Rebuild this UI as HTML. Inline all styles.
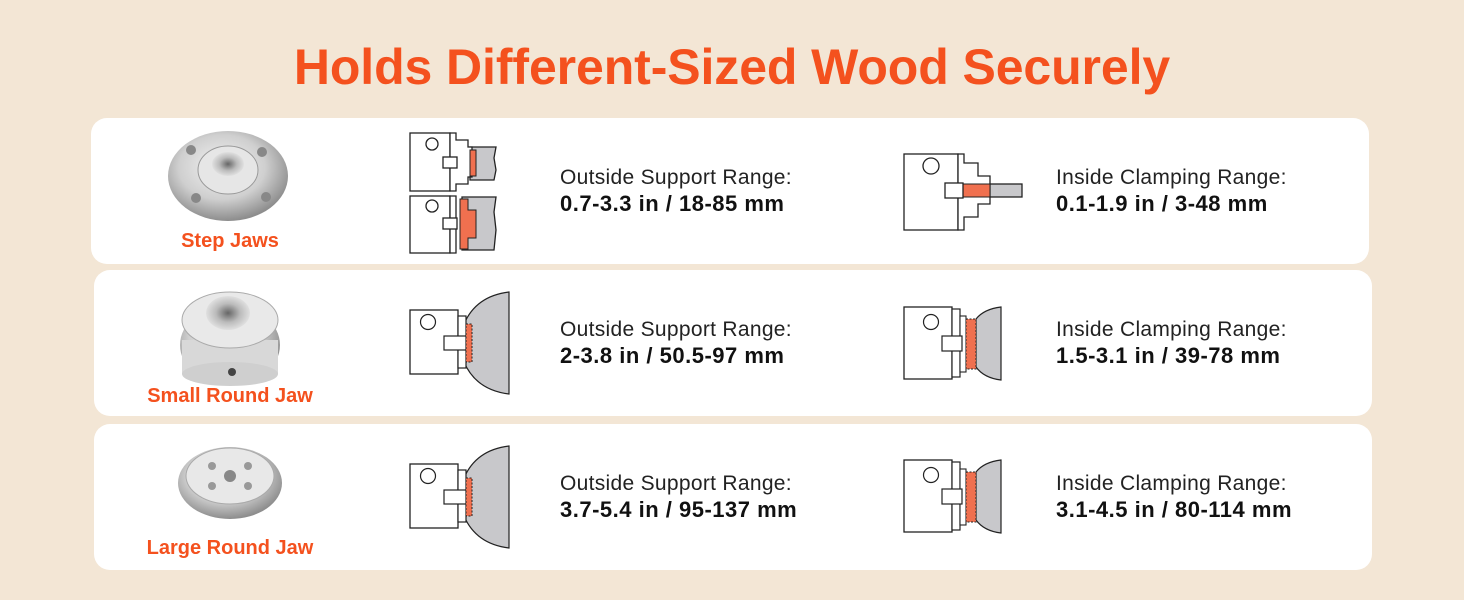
<!DOCTYPE html>
<html><head><meta charset="utf-8"><style>
html,body{margin:0;padding:0}
body{width:1464px;height:600px;background:#f3e6d5;position:relative;overflow:hidden;font-family:"Liberation Sans",sans-serif}
h1{position:absolute;left:0;width:1464px;top:38px;margin:0;text-align:center;font-size:50px;font-weight:bold;color:#f4511e;letter-spacing:-0.1px}
.card{position:absolute;background:#fff;border-radius:16px}
.t{position:absolute;font-size:21px;color:#222;line-height:26px;letter-spacing:0.3px}
.t b{color:#111;letter-spacing:0.5px;font-size:22px}
.lab{position:absolute;width:200px;text-align:center;font-size:20px;font-weight:bold;color:#f4511e;letter-spacing:0px}
svg{position:absolute;left:0;top:0}
</style></head><body>
<h1>Holds Different-Sized Wood Securely</h1>
<div class="card" style="left:91px;top:118px;width:1278px;height:146px"></div>
<div class="card" style="left:94px;top:270px;width:1278px;height:146px"></div>
<div class="card" style="left:94px;top:424px;width:1278px;height:146px"></div>

<div class="lab" style="left:130px;top:230px">Step Jaws</div>
<div class="lab" style="left:130px;top:385px">Small Round Jaw</div>
<div class="lab" style="left:130px;top:537px">Large Round Jaw</div>

<div class="t" style="left:560px;top:165px">Outside Support Range:<br><b>0.7-3.3 in / 18-85 mm</b></div>
<div class="t" style="left:1056px;top:165px">Inside Clamping Range:<br><b>0.1-1.9 in / 3-48 mm</b></div>
<div class="t" style="left:560px;top:317px">Outside Support Range:<br><b>2-3.8 in / 50.5-97 mm</b></div>
<div class="t" style="left:1056px;top:317px">Inside Clamping Range:<br><b>1.5-3.1 in / 39-78 mm</b></div>
<div class="t" style="left:560px;top:471px">Outside Support Range:<br><b>3.7-5.4 in / 95-137 mm</b></div>
<div class="t" style="left:1056px;top:471px">Inside Clamping Range:<br><b>3.1-4.5 in / 80-114 mm</b></div>

<svg width="1464" height="600" viewBox="0 0 1464 600">
<defs>
<radialGradient id="m" cx="45%" cy="40%" r="60%"><stop offset="0" stop-color="#f4f4f4"/><stop offset="0.6" stop-color="#cfcfcf"/><stop offset="1" stop-color="#8d8d8d"/></radialGradient>
<radialGradient id="m2" cx="50%" cy="50%" r="55%"><stop offset="0" stop-color="#666"/><stop offset="0.5" stop-color="#bbb"/><stop offset="1" stop-color="#e8e8e8"/></radialGradient>
<g id="out">
<path d="M54,32 Q66,4 99,0 L99,102 Q66,98 54,70 Z" fill="#c8c8cb" stroke="#222" stroke-width="1.2"/>
<rect x="0" y="18" width="48" height="64" fill="#fff" stroke="#222" stroke-width="1.3"/>
<circle cx="18" cy="30" r="7.5" fill="#fff" stroke="#222" stroke-width="1.2"/>
<rect x="48" y="24" width="8" height="52" fill="#fff" stroke="#222" stroke-width="1.2"/>
<rect x="34" y="44" width="22" height="14" fill="#fff" stroke="#222" stroke-width="1.2"/>
<rect x="56" y="32" width="6" height="38" fill="#f0704f" stroke="#222" stroke-width="1" stroke-dasharray="2 1.5"/>
</g>
<g id="in">
<path d="M72,12 Q80,2 97,0 L97,73 Q80,71 72,60 Z" fill="#c8c8cb" stroke="#222" stroke-width="1.2"/>
<rect x="0" y="0" width="48" height="72" fill="#fff" stroke="#222" stroke-width="1.3"/>
<circle cx="27" cy="15" r="7.5" fill="#fff" stroke="#222" stroke-width="1.2"/>
<rect x="48" y="2" width="8" height="68" fill="#fff" stroke="#222" stroke-width="1.2"/>
<rect x="56" y="9" width="6" height="56" fill="#fff" stroke="#222" stroke-width="1.1"/>
<rect x="38" y="29" width="20" height="15" fill="#fff" stroke="#222" stroke-width="1.2"/>
<rect x="62" y="12" width="10" height="50" fill="#f0704f" stroke="#222" stroke-width="1" stroke-dasharray="2 1.5"/>
</g>
</defs>

<ellipse cx="228" cy="176" rx="60" ry="45" fill="url(#m)"/>
<ellipse cx="228" cy="170" rx="30" ry="24" fill="#e6e6e6" stroke="#999"/>
<ellipse cx="228" cy="164" rx="16" ry="12" fill="url(#m2)"/>
<circle cx="191" cy="150" r="5" fill="#888"/><circle cx="262" cy="152" r="5" fill="#888"/><circle cx="196" cy="198" r="5" fill="#888"/><circle cx="266" cy="197" r="5" fill="#888"/>

<ellipse cx="230" cy="345" rx="50" ry="40" fill="url(#m)"/>
<rect x="182" y="340" width="96" height="34" fill="#d8d8d8"/>
<ellipse cx="230" cy="374" rx="48" ry="12" fill="#cfcfcf"/>
<ellipse cx="230" cy="320" rx="48" ry="28" fill="#e9e9e9" stroke="#aaa"/>
<ellipse cx="228" cy="313" rx="22" ry="17" fill="url(#m2)"/>
<circle cx="232" cy="372" r="4" fill="#444"/>

<ellipse cx="230" cy="483" rx="52" ry="36" fill="url(#m)"/>
<ellipse cx="230" cy="476" rx="44" ry="28" fill="#e8e8e8" stroke="#aaa"/>
<circle cx="230" cy="476" r="6" fill="#888"/>
<circle cx="212" cy="466" r="4" fill="#999"/><circle cx="248" cy="466" r="4" fill="#999"/><circle cx="212" cy="486" r="4" fill="#999"/><circle cx="248" cy="486" r="4" fill="#999"/>

<g stroke="#222" stroke-width="1.3" fill="#fff">
<path d="M470,147 L496,147 L494,158 L496,170 L494,180 L470,180 Z" fill="#c8c8cb"/>
<rect x="410" y="133" width="40" height="58"/>
<circle cx="432" cy="144" r="6"/>
<path d="M450,133 L456,133 L456,140 L468,140 L468,147 L472,147 L472,177 L468,177 L468,184 L456,184 L456,191 L450,191 Z"/>
<rect x="443" y="157" width="14" height="11"/>
<rect x="470" y="150" width="6" height="26" fill="#f0704f" stroke-width="1"/>

<path d="M462,197 L496,197 L494,212 L496,230 L494,250 L462,250 Z" fill="#c8c8cb"/>
<rect x="410" y="196" width="40" height="57"/>
<circle cx="432" cy="206" r="6"/>
<path d="M450,196 L456,196 L456,253 L450,253 Z"/>
<rect x="443" y="218" width="14" height="11"/>
<path d="M460,199 L468,199 L468,210 L476,210 L476,238 L468,238 L468,249 L460,249 Z" fill="#f0704f" stroke-width="1"/>

<rect x="904" y="154" width="54" height="76"/>
<circle cx="931" cy="166" r="8"/>
<path d="M958,154 L964,154 L964,163 L978,163 L978,176 L990,176 L990,204 L978,204 L978,217 L964,217 L964,230 L958,230 Z"/>
<rect x="990" y="184" width="32" height="13" fill="#c8c8cb"/>
<rect x="963" y="184" width="27" height="13" fill="#f0704f" stroke-width="1"/>
<rect x="945" y="183" width="18" height="15"/>
</g>

<use href="#out" x="410" y="292"/>
<use href="#out" x="410" y="446"/>
<use href="#in" x="904" y="307"/>
<use href="#in" x="904" y="460"/>
</svg>
</body></html>
